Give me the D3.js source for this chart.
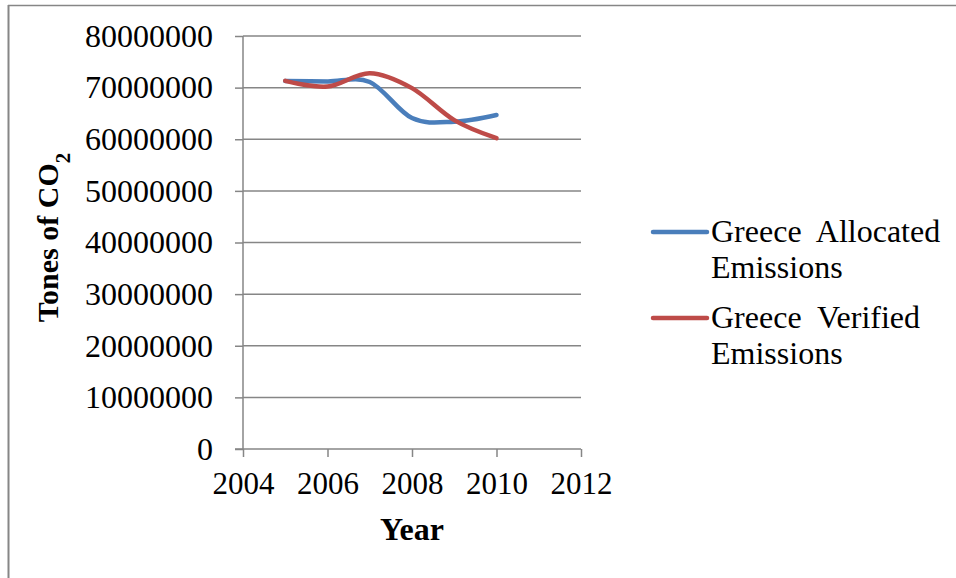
<!DOCTYPE html>
<html>
<head>
<meta charset="utf-8">
<script src="https://cdn.jsdelivr.net/npm/d3@7"></script>
<style>
  body { margin: 0; background: #fff; }
  text { font-family: "Liberation Serif", "Times New Roman", serif; fill: #000; }
</style>
</head>
<body>
<div id="chart"></div>
<script>
(function () {

    // data
    var years = [2005, 2006, 2007, 2008, 2009, 2010];
    var allocated = [71300000, 71200000, 71100000, 64100000, 63400000, 64700000];
    var verified = [71300000, 70200000, 72800000, 69900000, 63700000, 60200000];
    var seriesNames = ["Greece  Allocated", "Greece  Verified"];
    var seriesColors = ["#4A7EBB", "#BE4B48"];
    var yTicks = [0, 10000000, 20000000, 30000000, 40000000, 50000000, 60000000, 70000000, 80000000];
    var xTicks = [2004, 2006, 2008, 2010, 2012];

    var W = 956, H = 578;
    var margin = { top: 36, left: 243, right: 375, bottom: 129 };
    var width = W - margin.left - margin.right,
        height = H - margin.top - margin.bottom;

    var svg = d3.select("#chart")
        .append("svg")
        .attr("width", W)
        .attr("height", H);

    // outer frame (only top and left edges are in view)
    svg.append("line")
        .attr("x1", 8).attr("x2", W)
        .attr("y1", 5.5).attr("y2", 5.5)
        .attr("stroke", "#868686")
        .attr("stroke-width", 1.5);
    svg.append("line")
        .attr("x1", 8.5).attr("x2", 8.5)
        .attr("y1", 5).attr("y2", H)
        .attr("stroke", "#868686")
        .attr("stroke-width", 2);

    var g = svg.append("g")
        .attr("transform", "translate(" + margin.left + "," + margin.top + ")");

    var x = d3.scaleLinear().domain([2004, 2012]).range([0, width]);
    var y = d3.scaleLinear().domain([0, 80000000]).range([height, 0]);

    // gridlines
    g.append("g")
        .selectAll("line")
        .data(yTicks.slice(1))
        .enter()
        .append("line")
        .attr("x1", 0).attr("x2", width)
        .attr("y1", function (d) { return y(d); })
        .attr("y2", function (d) { return y(d); })
        .attr("stroke", "#868686")
        .attr("stroke-width", 1.5);

    // y axis
    var yAxis = g.append("g")
        .call(d3.axisLeft(y).tickValues(yTicks).tickSize(8).tickPadding(22).tickFormat(d3.format("d")));
    yAxis.selectAll("line, path").attr("stroke", "#868686").attr("stroke-width", 1.5);
    yAxis.select(".domain").attr("d", "M0," + height + "V0");
    yAxis.selectAll("text")
        .style("font-family", "'Liberation Serif', serif")
        .style("font-size", "32px")
        .attr("dy", "0.32em");

    // x axis
    var xAxis = g.append("g")
        .attr("transform", "translate(0," + height + ")")
        .call(d3.axisBottom(x).tickValues(xTicks).tickSize(8).tickPadding(15).tickFormat(d3.format("d")));
    xAxis.selectAll("line, path").attr("stroke", "#868686").attr("stroke-width", 1.5);
    xAxis.select(".domain").attr("d", "M-8,0H" + width);
    xAxis.selectAll("text")
        .style("font-family", "'Liberation Serif', serif")
        .style("font-size", "31px");

    // lines
    var line = d3.line()
        .x(function (d) { return x(d[0]); })
        .y(function (d) { return y(d[1]); })
        .curve(d3.curveCardinal);

    [allocated, verified].forEach(function (vals, i) {
        g.append("path")
            .datum(years.map(function (yr, j) { return [yr, vals[j]]; }))
            .attr("d", line)
            .attr("fill", "none")
            .attr("stroke", seriesColors[i])
            .attr("stroke-width", 4.5)
            .attr("stroke-linecap", "round");
    });

    // axis titles
    svg.append("text")
        .attr("transform", "translate(47," + (margin.top + height / 2 - 5) + ") rotate(-90)")
        .attr("text-anchor", "middle")
        .attr("dy", "0.35em")
        .style("font-size", "30px")
        .style("font-weight", "bold")
        .text("Tones of CO")
        .append("tspan")
        .attr("baseline-shift", "sub")
        .style("font-size", "21px")
        .text("2");

    svg.append("text")
        .attr("x", margin.left + width / 2)
        .attr("y", 540)
        .attr("text-anchor", "middle")
        .style("font-size", "32px")
        .style("font-weight", "bold")
        .text("Year");

    // legend
    var legend = svg.append("g");
    var legendY = [232, 318];
    seriesNames.forEach(function (name, i) {
        var item = legend.append("g").attr("transform", "translate(653," + legendY[i] + ")");
        item.append("line")
            .attr("x1", 0).attr("x2", 54)
            .attr("stroke", seriesColors[i])
            .attr("stroke-width", 4.5)
            .attr("stroke-linecap", "round");
        item.append("text")
            .attr("x", 58).attr("y", 10)
            .style("font-size", "32px")
            .style("white-space", "pre")
            .text(name);
        item.append("text")
            .attr("x", 58).attr("y", 46)
            .style("font-size", "32px")
            .text("Emissions");
    });
})();
</script>
</body>
</html>
